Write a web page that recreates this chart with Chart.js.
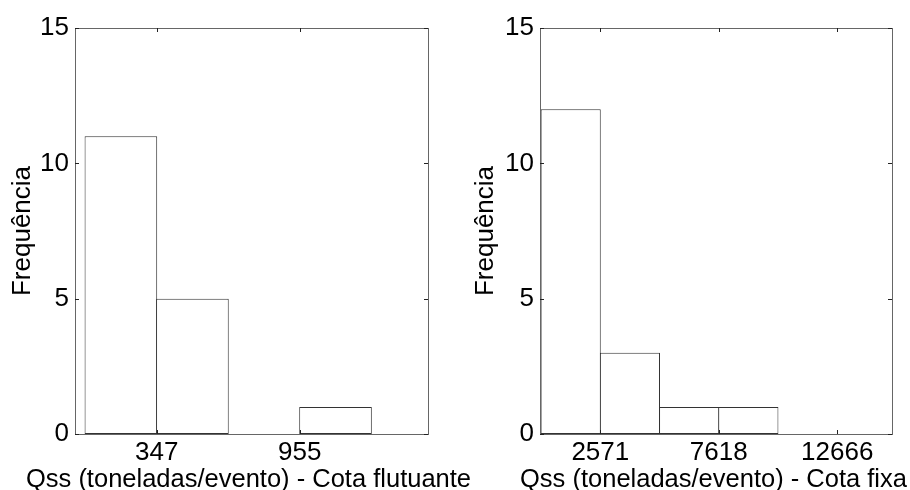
<!DOCTYPE html>
<html>
<head>
<meta charset="utf-8">
<script src="https://cdn.jsdelivr.net/npm/chart.js@4/dist/chart.umd.min.js"></script>
<style>
body{margin:0;background:#fff;width:910px;height:490px;position:relative;overflow:hidden}
.box{position:absolute;top:0;height:490px}
</style>
</head>
<body>
<div class="box" style="left:0;width:480px"><canvas id="left-chart"></canvas></div>
<div class="box" style="left:455px;width:455px"><canvas id="right-chart"></canvas></div>
<script>
// left histogram - cota flutuante (bin centers, counts)
const left_centers = [195, 499, 803, 1107];
const left_counts = [11, 5, 0, 1];
const left_ticks = [347, 955];
const left_title = 'Qss (toneladas/evento) - Cota flutuante';

// right histogram - cota fixa
const right_centers = [1309, 3833, 6357, 8880, 11404];
const right_counts = [12, 3, 1, 1, 0];
const right_ticks = [2571, 7618, 12666];
const right_title = 'Qss (toneladas/evento) - Cota fixa';

const y_title = 'Frequência';
const font_family = "'Liberation Sans', Arial, sans-serif";

// draws the matlab style box, inward ticks and the x title
const matlabAxes = {
    id: 'matlabAxes',
    afterDraw(chart, args, opts) {
        const ctx = chart.ctx;
        const a = chart.chartArea;
        const sx = chart.scales.x, sy = chart.scales.y;
        ctx.save();
        ctx.lineWidth = 1;
        ctx.strokeStyle = '#666';
        ctx.strokeRect(Math.round(a.left) + 0.5, Math.round(a.top) + 0.5,
            Math.round(a.right - a.left), Math.round(a.bottom - a.top));
        ctx.strokeStyle = '#222';
        ctx.beginPath();
        sx.ticks.forEach(t => {
            const px = Math.round(sx.getPixelForValue(t.value)) + 0.5;
            ctx.moveTo(px, a.bottom); ctx.lineTo(px, a.bottom - 4);
            ctx.moveTo(px, a.top); ctx.lineTo(px, a.top + 4);
        });
        sy.ticks.forEach(t => {
            const py = Math.round(sy.getPixelForValue(t.value)) + 0.5;
            ctx.moveTo(a.left, py); ctx.lineTo(a.left + 4, py);
            ctx.moveTo(a.right, py); ctx.lineTo(a.right - 4, py);
        });
        ctx.stroke();
        ctx.fillStyle = '#000';
        ctx.font = '25.5px ' + font_family;
        ctx.textAlign = 'center';
        ctx.textBaseline = 'alphabetic';
        ctx.fillText(opts.text, (a.left + a.right) / 2 + opts.shift, 487);
        ctx.restore();
    }
};

function make_hist(canvas_id, centers, counts, ticks, xmax, title, yw, padRight, titlePad, shift) {
    const points = centers.map((c, i) => ({x: c, y: counts[i]}));
    return new Chart(document.getElementById(canvas_id), {
        type: 'bar',
        data: {
            datasets: [{
                data: points,
                backgroundColor: '#fff',
                borderColor: '#333',
                borderWidth: 1,
                borderSkipped: false,
                // slightly over 1 so neighbouring bars share one edge line
                barPercentage: 1.015,
                categoryPercentage: 1
            }]
        },
        options: {
            responsive: false,
            animation: false,
            layout: {padding: {left: 0, right: padRight, top: 28, bottom: 0}},
            plugins: {
                legend: {display: false},
                tooltip: {enabled: false},
                matlabAxes: {text: title, shift: shift}
            },
            scales: {
                x: {
                    type: 'linear',
                    min: 0,
                    max: xmax,
                    offset: false,
                    grid: {display: false, drawTicks: false},
                    border: {display: false},
                    afterBuildTicks: s => { s.ticks = ticks.map(v => ({value: v})); },
                    afterFit: s => { s.height = 56; },
                    ticks: {
                        color: '#000',
                        font: {family: font_family, size: 26},
                        padding: 3,
                        maxRotation: 0,
                        autoSkip: false,
                        callback: v => String(v)
                    }
                },
                y: {
                    min: 0,
                    max: 15,
                    grid: {display: false, drawTicks: false},
                    border: {display: false},
                    afterFit: s => { s.width = yw; },
                    ticks: {
                        stepSize: 5,
                        color: '#000',
                        font: {family: font_family, size: 26},
                        padding: 6
                    },
                    title: {
                        display: true,
                        text: y_title,
                        color: '#000',
                        font: {family: font_family, size: 26, lineHeight: 1},
                        padding: titlePad
                    }
                }
            }
        },
        plugins: [matlabAxes]
    });
}

const lc = document.getElementById('left-chart');
lc.width = 480; lc.height = 490;
const rc = document.getElementById('right-chart');
rc.width = 455; rc.height = 490;

make_hist('left-chart', left_centers, left_counts, left_ticks, 1500, left_title, 75, 52, 10, -3);
make_hist('right-chart', right_centers, right_counts, right_ticks, 15000, right_title, 85, 18, 18, -2.5);
</script>
</body>
</html>
